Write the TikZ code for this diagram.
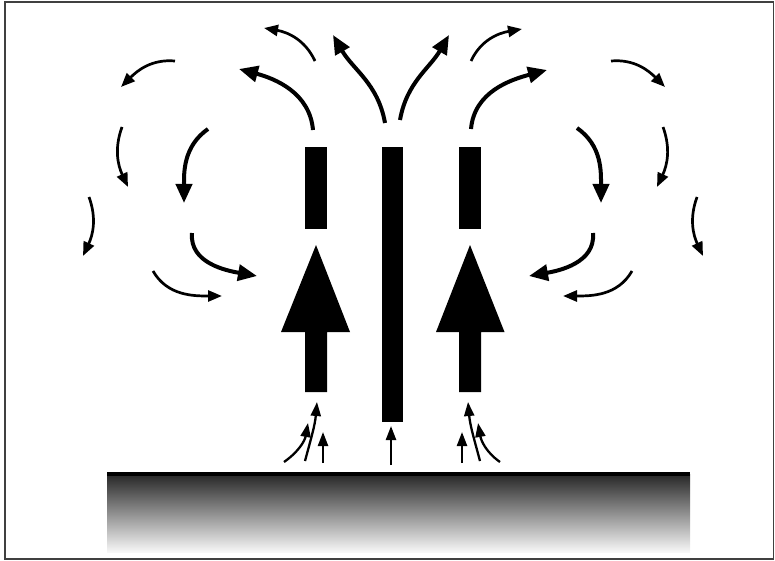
\documentclass[tikz,border=0pt]{standalone}
\usetikzlibrary{arrows.meta}
\begin{document}
\begin{tikzpicture}[x=1pt,y=1pt,
  bigflow/.style={line width=4pt,-{Triangle[length=19pt,width=16pt]}},
  thinflow/.style={line width=2.7pt,-{Triangle[length=14pt,width=11pt]}},
  smallflow/.style={line width=2.3pt,-{Triangle[length=14pt,width=10pt]}},
  solidbar/.style={fill=black,draw=none}]
\useasboundingbox (0,0) rectangle (775,-561);
\draw[black!75,line width=1.3pt] (5,-2) rectangle (773.5,-559);
% ground
\shade[top color=black!85,bottom color=black!3] (107,-474) rectangle (690,-552);
\fill[black] (107,-471.5) rectangle (690,-476);
% bars
\fill[solidbar] (305,-147) rectangle (327,-229);
\fill[solidbar] (459,-147) rectangle (481,-229);
\fill[solidbar] (382,-147) rectangle (403,-422);
% big arrows
\fill[solidbar] (316,-245) -- (350,-332) -- (327,-332) -- (327,-392) -- (305,-392) -- (305,-332) -- (281,-332) -- cycle;
\fill[solidbar] (470,-245) -- (504.5,-332) -- (481,-332) -- (481,-392) -- (459,-392) -- (459,-332) -- (436,-332) -- cycle;
% left flows
\draw[bigflow] (313,-130) to[out=95,in=-15] (239,-69);
\draw[bigflow] (385,-123) to[out=100,in=-60] (333,-35);
\draw[thinflow] (315,-61) to[out=115,in=-10] (264,-28);
\draw[thinflow] (175,-61) to[out=175,in=45] (121,-87);
\draw[bigflow] (208,-129) to[out=215,in=90] (184,-203);
\draw[thinflow] (122,-127) to[out=250,in=115] (128,-187);
\draw[thinflow] (89,-197) to[out=-70,in=65] (83,-256);
\draw[bigflow] (192,-233) to[out=-95,in=170] (257,-276);
\draw[thinflow] (153,-271) to[out=-60,in=180] (222,-296);
% right flows
\draw[bigflow] (471,-129) to[out=85,in=195] (547,-70);
\draw[bigflow] (400,-120) to[out=80,in=240] (449,-35);
\draw[thinflow] (471,-61) to[out=65,in=190] (522,-29);
\draw[thinflow] (611,-61) to[out=5,in=135] (665,-87);
\draw[bigflow] (577,-128) to[out=-35,in=90] (601,-203);
\draw[thinflow] (663,-127) to[out=-70,in=65] (657,-187);
\draw[thinflow] (697,-197) to[out=250,in=115] (703,-256);
\draw[bigflow] (593,-233) to[out=275,in=10] (529,-276);
\draw[thinflow] (632,-271) to[out=240,in=0] (563,-296);
% bottom inflow
\draw[smallflow] (284,-462) to[out=35,in=-100] (308,-423);
\draw[smallflow] (305,-461) to[out=75,in=-95] (317,-402);
\draw[smallflow] (323,-463) -- (323,-432);
\draw[smallflow] (391,-465) -- (391,-426);
\draw[smallflow] (462,-463) -- (462,-432);
\draw[smallflow] (480,-461) to[out=105,in=-85] (468,-402);
\draw[smallflow] (500,-462) to[out=145,in=-80] (478,-423);
\end{tikzpicture}
\end{document}
